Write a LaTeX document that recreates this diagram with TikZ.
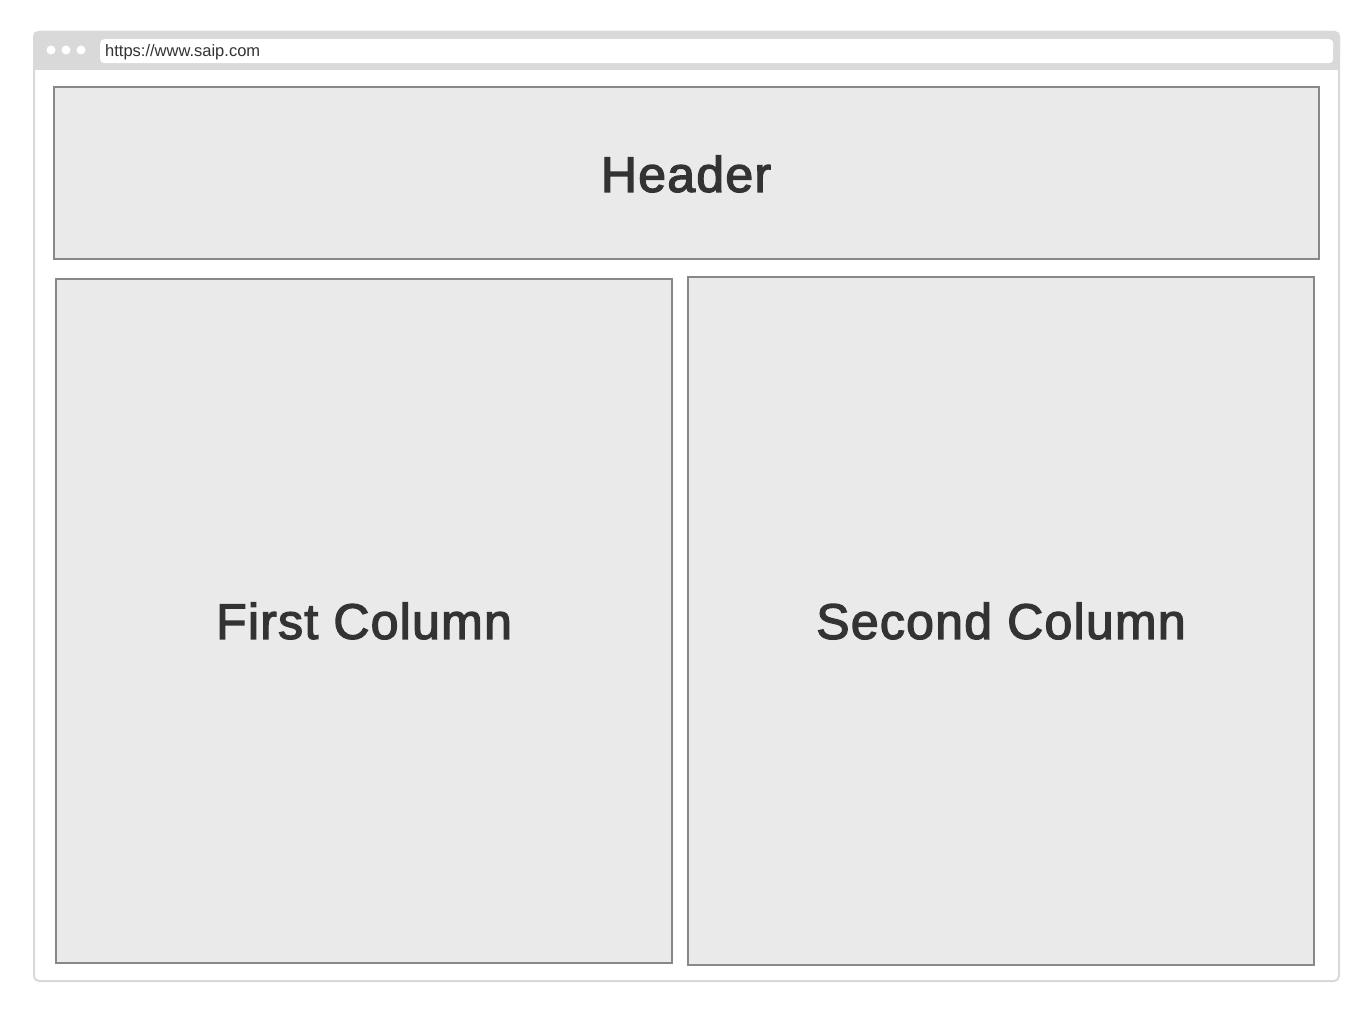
\documentclass[tikz,border=0pt]{standalone}
\usepackage{fontspec}
\setmainfont{Liberation Sans}
\newfontfamily\labelfont[FakeBold=2.6,LetterSpace=2.5]{Liberation Sans}
\definecolor{framegray}{HTML}{D9D9D9}
\definecolor{panelfill}{HTML}{EAEAEA}
\definecolor{panelline}{HTML}{888888}
\definecolor{textdark}{HTML}{333333}
\begin{document}
\begin{tikzpicture}[x=1pt,y=-1pt,
  panel/.style={draw=panelline, line width=2pt, fill=panelfill},
  label/.style={text=textdark, font=\labelfont\fontsize{50}{60}\selectfont},
  dot/.style={circle, fill=white, inner sep=0pt, minimum size=9pt}]
\useasboundingbox (0,0) rectangle (1372,1022);
% browser window
\draw[framegray, line width=2pt, fill=white, rounded corners=5pt] (34,32) rectangle (1339,981);
\fill[framegray, rounded corners=5pt] (33,31) rectangle (1340,58);
\fill[framegray] (33,50) rectangle (1340,70);
% address bar
\node[fill=white, rounded corners=4pt, minimum width=1233pt, minimum height=24pt, inner sep=0pt,
  anchor=north west] (addr) at (100,39) {};
\node[anchor=west, inner sep=0pt, text=textdark, font=\fontsize{16.5}{19}\selectfont] (url) at (105,52) {https://www.saip.com};
\node[dot] (d1) at (51,50) {};
\node[dot] (d2) at (66,50) {};
\node[dot] (d3) at (81,50) {};
% page panels
\draw[panel] (54,87) rectangle (1319,259);
\node[label] (header) at (686,174) {Header};
\draw[panel] (56,279) rectangle (672,963);
\node[label] (first) at (364,621) {First Column};
\draw[panel] (688,277) rectangle (1314,965);
\node[label] (second) at (1001,621) {Second Column};
\end{tikzpicture}
\end{document}
